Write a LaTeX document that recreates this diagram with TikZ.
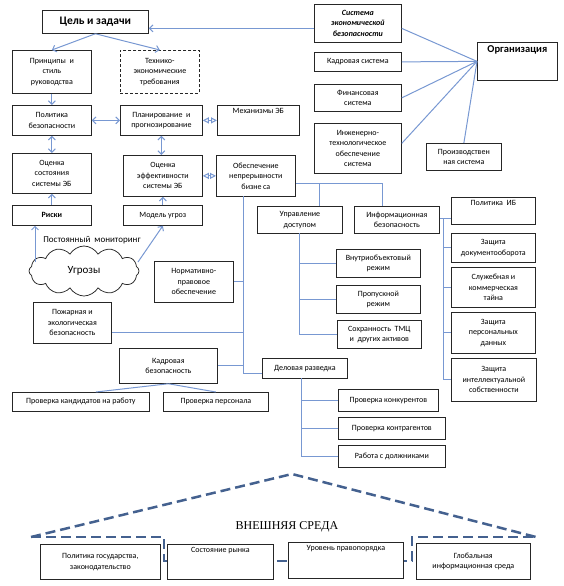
\documentclass[tikz,border=0pt]{standalone}
\usepackage{fontspec}
\setmainfont{Carlito}
\newfontfamily\serifru{Liberation Serif}
\usetikzlibrary{arrows.meta,shapes.symbols,calc}
\definecolor{linkc}{HTML}{7898D2}
\definecolor{roofc}{HTML}{44618F}
\tikzset{
 box/.style={draw=black!85, line width=0.75pt, fill=white, anchor=north west, align=center, inner sep=1pt, font=\fontsize{8}{10.5}\selectfont},
 lab/.style={anchor=north, inner sep=3pt, font=\fontsize{8}{10.5}\selectfont},
 conn/.style={draw=linkc, line width=1pt},
 arr/.style={conn, -{Straight Barb[length=3.5pt,width=7pt]}},
 darr/.style={conn, {Straight Barb[length=3.5pt,width=7pt]}-{Straight Barb[length=3.5pt,width=7pt]}},
 diam/.style={conn, {Triangle[open,length=6pt,width=6pt]}-{Triangle[open,length=6pt,width=6pt]}},
 roof/.style={draw=roofc, line width=2.5pt, dash pattern=on 10pt off 5pt},
}
\newcommand\bx[7][]{\node[box,minimum width={(#5-#3)*1pt},minimum height={(#6-#4)*1pt},#1] (#2) at (#3,#4) {#7};}
\begin{document}
\begin{tikzpicture}[x=1pt,y=-1pt]
\useasboundingbox (0,0) rectangle (563,586);

% external environment roof
\draw[roof] (31,537) -- (292,474) -- (536,537);
\draw[roof] (31,537) -- (164,537) -- (164,561) -- (412,561) -- (412,537) -- (536,537);
\node[font=\serifru\fontsize{12}{12}\selectfont] (ext) at (287,527) {ВНЕШНЯЯ СРЕДА};

% boxes
\bx[font=\bfseries\fontsize{11.5}{12}\selectfont]{goal}{42}{10}{148}{33}{Цель и задачи}
\bx{princ}{12}{50}{91}{93}{Принципы\ \ и\\стиль\\руководства}
\bx[densely dashed]{tech}{120}{50}{199}{93}{Технико-\\экономические\\требования}
\bx{polit}{12}{105}{91}{135}{Политика\\безопасности}
\bx{plan}{120}{105}{202}{135}{Планирование\ \ и\\прогнозирование}
\bx[label={[lab]north:Механизмы ЭБ}]{mech}{217}{105}{299}{135}{}
\bx{ocsost}{12}{153}{91}{193}{Оценка\\состояния\\системы ЭБ}
\bx{oceff}{123}{155}{202}{196}{Оценка\\эффективности\\системы ЭБ}
\bx{cont}{216}{155}{295}{196}{Обеспечение\\непрерывности\\бизне\,са}
\bx[font=\bfseries\fontsize{8}{10.5}\selectfont]{risk}{12}{205}{91}{225}{Риски}
\bx{model}{123}{205}{202}{225}{Модель угроз}
\bx{access}{257}{206}{342}{233}{Управление\\доступом}
\bx{infosec}{354}{206}{439}{233}{Информационная\\безопасность}
\bx[label={[lab]north:Политика\ \ ИБ}]{polib}{451}{197}{535}{224}{}
\bx{zdoc}{451}{233}{535}{262}{Защита\\документооборота}
\bx{sluzh}{451}{267}{535}{307}{Служебная и\\коммерческая\\тайна}
\bx{zpers}{451}{312}{535}{353}{Защита\\персональных\\данных}
\bx{zint}{451}{358}{536}{401}{Защита\\интеллектуальной\\собственности}
\bx{vnutr}{336}{249}{420}{277}{Внутриобъектовый\\режим}
\bx{prop}{336}{285}{420}{313}{Пропускной\\режим}
\bx{tmc}{337}{320}{421}{348}{Сохранность\ \ ТМЦ\\и\ \ других активов}
\bx{norm}{154}{261}{233}{302}{Нормативно-\\правовое\\обеспечение}
\bx{fire}{33}{302}{111}{343}{Пожарная и\\экологическая\\безопасность}
\bx{kadrb}{119}{348}{217}{383}{Кадровая\\безопасность}
\bx{cand}{12}{392}{149}{411}{Проверка кандидатов на работу}
\bx{pers}{163}{392}{268}{411}{Проверка персонала}
\bx{delr}{262}{358}{347}{378}{Деловая разведка}
\bx{konk}{338}{389}{438}{411}{Проверка конкурентов}
\bx{kontr}{338}{417}{445}{439}{Проверка контрагентов}
\bx{dolzh}{338}{445}{445}{467}{Работа с должниками}
\bx[font=\bfseries\itshape\fontsize{8}{10.5}\selectfont]{ses}{314}{4}{401}{42}{Система\\экономической\\безопасности}
\bx{kads}{314}{52}{401}{71}{Кадровая система}
\bx{fins}{314}{84}{401}{111}{Финансовая\\система}
\bx{eng}{314}{123}{401}{173}{Инженерно-\\технологическое\\обеспечение\\система}
\bx[label={[lab,font=\bfseries\fontsize{10.5}{12}\selectfont]north:Организация}]{org}{477}{42}{557}{80}{}
\bx{prod}{426}{143}{501}{170}{Производствен\\ная система}
\bx{gov}{40}{544}{160}{579}{Политика государства,\\законодательство}
\bx[label={[lab]north:Состояние рынка}]{market}{167}{544}{273}{579}{}
\bx[label={[lab]north:Уровень правопорядка}]{law}{288}{542}{403}{578}{}
\bx{glob}{416}{543}{530}{579}{Глобальная\\информационная среда}

% threats cloud
\node[cloud, draw=black!85, line width=0.75pt, fill=white, cloud puffs=12, cloud puff arc=120, aspect=2.3, minimum width=110pt, minimum height=50pt, inner sep=0pt, font=\fontsize{11}{11}\selectfont] (threat) at (84,271) {Угрозы};
\node[font=\fontsize{9}{9}\selectfont] (mon) at (92,240) {Постоянный\ \ мониторинг};

% top arrows
\draw[arr] (goal.south) -- (princ.north);
\draw[arr] (goal.south) -- (tech.north);
\draw[arr] ([yshift=-5pt]ses.west) -- ([yshift=-5pt]ses.west -| goal.east);
\draw[arr] (princ.south) -- (polit.north);
\draw[darr] (polit.east) -- (plan.west);
\draw[diam] (plan.east) -- (mech.west);
\draw[darr] (polit.south) -- (ocsost.north);
\draw[darr] (plan.south) -- (plan.south |- oceff.north);
\draw[diam] (oceff.east) -- (cont.west);
\draw[arr] (risk.north) -- (ocsost.south);
\draw[arr] (model.north) -- (oceff.south);
\coordinate (monL) at (35,262);
\coordinate (monR) at (138,262);
\draw[arr] (monL) -- (monL |- risk.south);
\draw[arr] (monR) -- (model.south);

% organisation
\draw[conn] ([yshift=-5pt]ses.east) -- (org.west);
\draw[conn] (kads.east) -- (org.west);
\draw[conn] (fins.east) -- (org.west);
\draw[conn] ([yshift=5pt]eng.east) -- (org.west);
\draw[conn] (prod.north) -- (org.west);

% continuity tree
\coordinate (busA) at (319,183);
\coordinate (busB) at (382,183);
\draw[conn] (cont.east |- busA) -- (busB) -- (busB |- infosec.north);
\draw[conn] (busA) -- (busA |- access.north);

% information security
\coordinate (ibx) at (443,218);
\draw[conn] (infosec.east |- ibx) -- (polib.west |- ibx);
\draw[conn] (ibx) -- (ibx |- zint.west) -- (zint.west);
\draw[conn] (ibx |- zdoc.west) -- (zdoc.west);
\draw[conn] (ibx |- sluzh.west) -- (sluzh.west);
\draw[conn] (ibx |- zpers.west) -- (zpers.west);

% access control
\coordinate (acx) at (299,233);
\draw[conn] (acx) -- (acx |- tmc.west) -- (tmc.west);
\draw[conn] (acx |- vnutr.west) -- (vnutr.west);
\draw[conn] (acx |- prop.west) -- (prop.west);

% main vertical
\coordinate (mv) at (243,196);
\coordinate (mvb) at (243,373);
\draw[conn] (mv) -- (mvb) -- (mvb -| delr.west);
\draw[conn] (norm.east) -- (norm.east -| mv);
\draw[conn] ([yshift=-10pt]fire.east) -- ([yshift=-10pt]fire.east -| mv);
\draw[conn] (kadrb.east) -- (kadrb.east -| mv);
\draw[conn] (kadrb.south) -- ([xshift=15pt]cand.north);
\draw[conn] (kadrb.south) -- (pers.north);

% business intelligence
\coordinate (drx) at (301,378);
\draw[conn] (drx) -- (drx |- dolzh.west) -- (dolzh.west);
\draw[conn] (drx |- konk.west) -- (konk.west);
\draw[conn] (drx |- kontr.west) -- (kontr.west);
\end{tikzpicture}
\end{document}
